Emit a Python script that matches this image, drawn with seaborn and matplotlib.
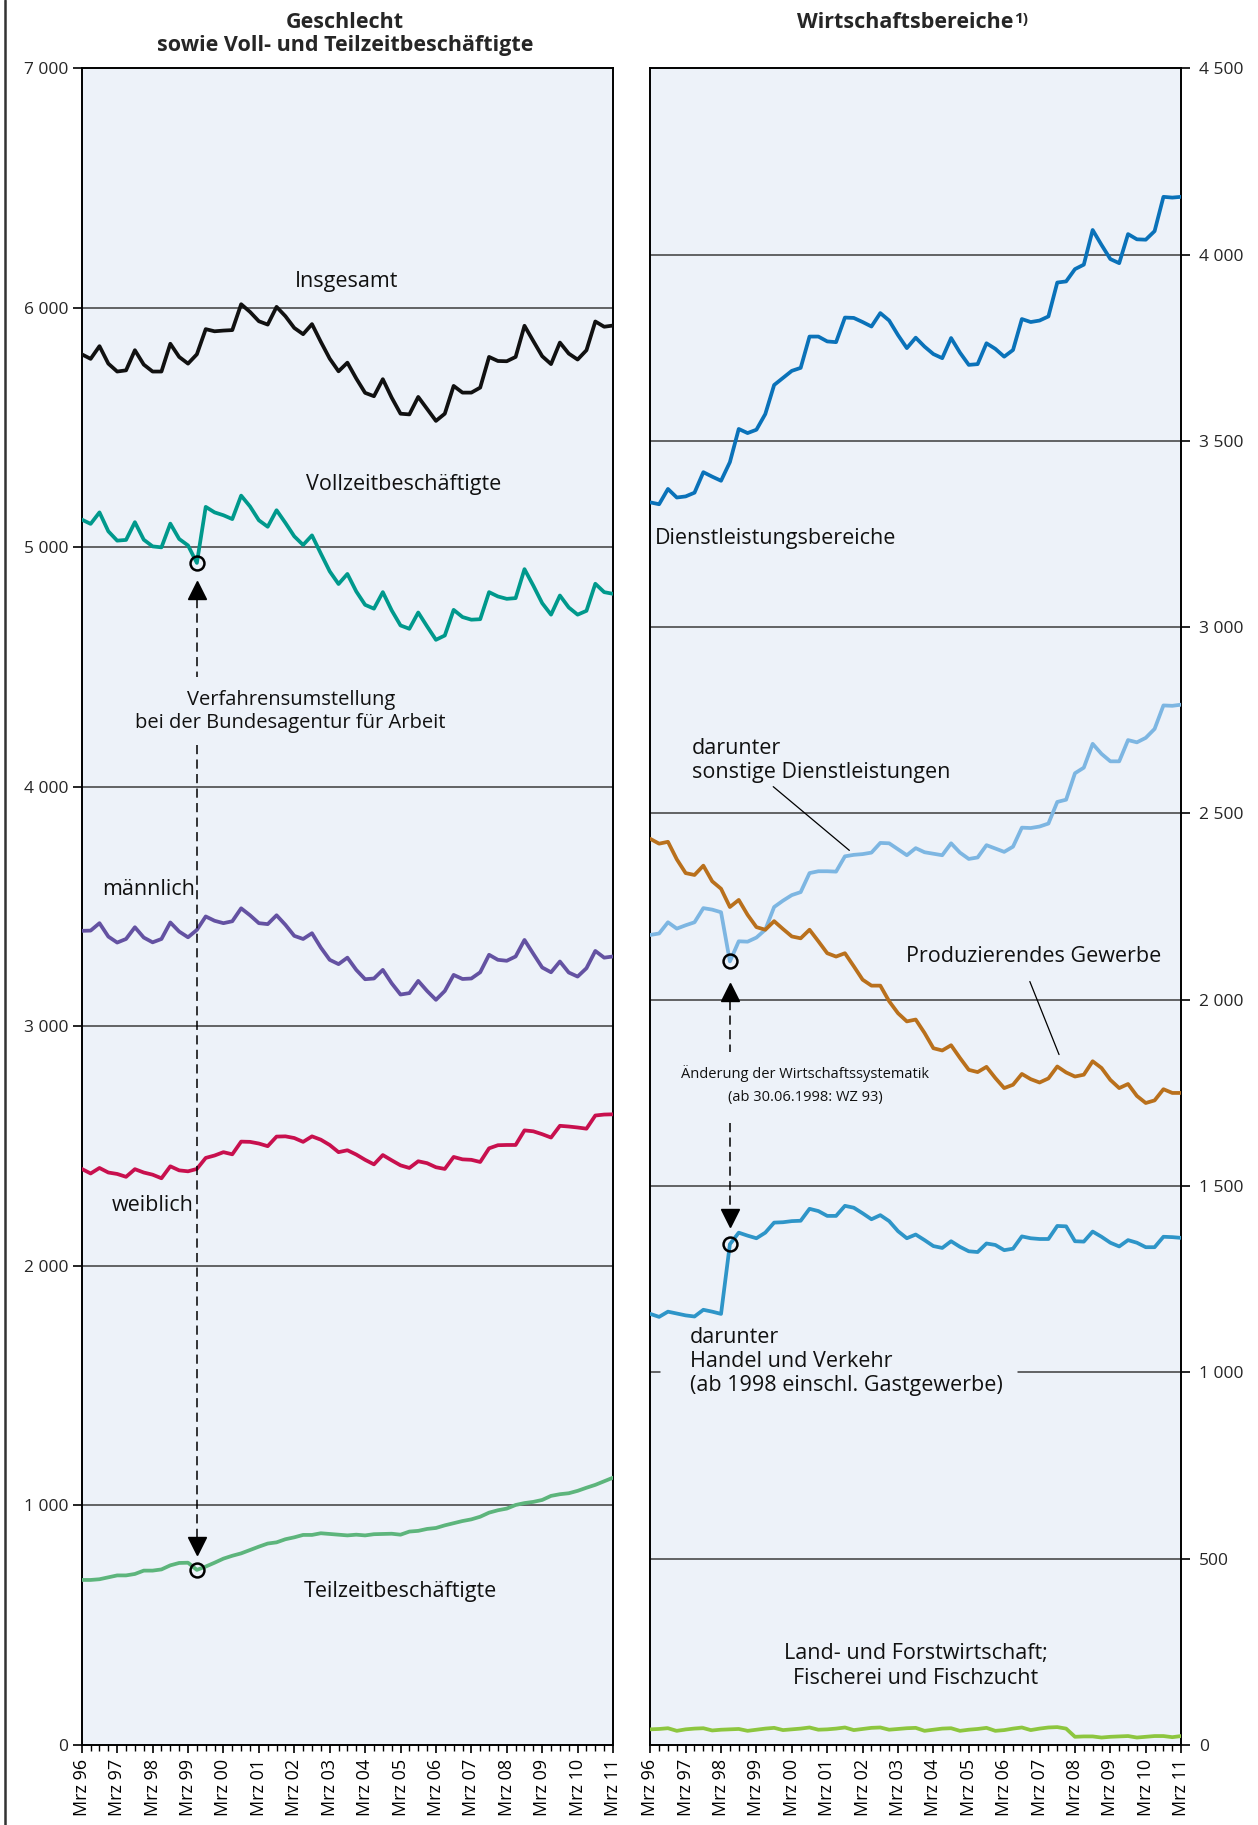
import numpy as np
import pandas as pd
import matplotlib
matplotlib.use("Agg")
import matplotlib.pyplot as plt
import seaborn as sns
from matplotlib.lines import Line2D

# ---------------- data (Tsd.), quarterly Mrz 96 ... Mrz 11 ----------------
tick_labels = ["Mrz 96", "Mrz 97", "Mrz 98", "Mrz 99", "Mrz 00", "Mrz 01", "Mrz 02", "Mrz 03",
               "Mrz 04", "Mrz 05", "Mrz 06", "Mrz 07", "Mrz 08", "Mrz 09", "Mrz 10", "Mrz 11"]

insgesamt = [5806, 5787, 5840, 5767, 5734, 5739, 5823, 5763, 5734, 5734, 5850, 5795, 5767, 5806, 5911,
             5902, 5905, 5907, 6015, 5983, 5944, 5930, 6004, 5965, 5916, 5890, 5932, 5858, 5788, 5735,
             5771, 5705, 5645, 5631, 5702, 5625, 5558, 5555, 5628, 5578, 5528, 5558, 5674, 5646, 5646,
             5667, 5795, 5778, 5777, 5795, 5925, 5861, 5798, 5765, 5855, 5809, 5784, 5823, 5943, 5921, 5926]
vollzeit = [5116, 5098, 5146, 5067, 5028, 5031, 5105, 5032, 5004, 5000, 5099, 5035, 5008, 4935, 5169,
            5146, 5134, 5118, 5216, 5171, 5113, 5086, 5155, 5102, 5046, 5010, 5050, 4974, 4900, 4847,
            4889, 4816, 4760, 4744, 4813, 4737, 4674, 4660, 4728, 4670, 4614, 4632, 4739, 4709, 4698,
            4700, 4813, 4795, 4785, 4788, 4909, 4840, 4767, 4719, 4799, 4749, 4719, 4735, 4848, 4813, 4806]
maennlich = [3399, 3400, 3431, 3375, 3350, 3365, 3414, 3371, 3351, 3365, 3434, 3396, 3372, 3403, 3459,
             3441, 3431, 3439, 3493, 3464, 3431, 3427, 3464, 3424, 3378, 3365, 3389, 3329, 3278, 3260,
             3287, 3236, 3197, 3200, 3236, 3180, 3133, 3139, 3190, 3148, 3111, 3148, 3215, 3198, 3200,
             3226, 3299, 3278, 3274, 3292, 3361, 3303, 3246, 3226, 3271, 3225, 3208, 3243, 3315, 3287, 3292]
weiblich = [2405, 2386, 2409, 2390, 2384, 2372, 2404, 2390, 2381, 2366, 2416, 2399, 2395, 2405, 2451,
            2461, 2475, 2466, 2519, 2518, 2511, 2500, 2540, 2541, 2534, 2518, 2541, 2527, 2505, 2475,
            2483, 2465, 2443, 2424, 2463, 2441, 2420, 2409, 2437, 2429, 2412, 2405, 2455, 2445, 2443,
            2434, 2491, 2504, 2505, 2505, 2566, 2562, 2550, 2536, 2585, 2582, 2578, 2573, 2628, 2632, 2633]
teilzeit = [689, 689, 692, 700, 708, 708, 714, 728, 728, 733, 750, 760, 761, 731, 745,
            761, 778, 790, 800, 814, 828, 841, 846, 859, 867, 877, 877, 884, 881, 878,
            875, 878, 875, 880, 881, 882, 878, 891, 894, 902, 906, 917, 926, 935, 942,
            953, 970, 980, 987, 1002, 1010, 1015, 1023, 1040, 1047, 1051, 1061, 1074, 1086, 1101, 1116]

dienstleistung = [3335, 3330, 3371, 3348, 3351, 3361, 3416, 3404, 3393, 3443, 3532, 3521, 3530, 3572, 3650,
                  3669, 3688, 3696, 3780, 3780, 3767, 3765, 3831, 3830, 3819, 3807, 3843, 3823, 3784, 3749,
                  3777, 3753, 3733, 3722, 3776, 3737, 3704, 3706, 3762, 3747, 3726, 3744, 3827, 3819, 3823,
                  3834, 3925, 3928, 3961, 3973, 4066, 4026, 3988, 3977, 4055, 4041, 4040, 4063, 4155, 4153, 4155]
sonstige_dl = [2174, 2178, 2208, 2191, 2200, 2208, 2246, 2242, 2235, 2103, 2157, 2156, 2167, 2188, 2249,
               2266, 2281, 2289, 2340, 2345, 2345, 2344, 2385, 2389, 2391, 2395, 2421, 2420, 2404, 2388,
               2407, 2396, 2392, 2388, 2420, 2395, 2378, 2382, 2415, 2406, 2397, 2411, 2462, 2461, 2465,
               2473, 2531, 2537, 2608, 2623, 2687, 2660, 2640, 2640, 2697, 2691, 2703, 2727, 2790, 2789, 2792]
produzierend = [2432, 2419, 2424, 2377, 2340, 2335, 2360, 2318, 2298, 2249, 2268, 2228, 2195, 2188, 2211,
                2190, 2170, 2165, 2188, 2157, 2125, 2116, 2125, 2090, 2054, 2038, 2038, 1996, 1964, 1942,
                1947, 1911, 1870, 1864, 1878, 1844, 1812, 1806, 1820, 1790, 1763, 1772, 1801, 1787, 1778,
                1789, 1821, 1805, 1794, 1799, 1835, 1817, 1785, 1763, 1774, 1742, 1723, 1730, 1760, 1750, 1750]
handel = [1157, 1149, 1163, 1158, 1153, 1150, 1168, 1163, 1157, 1344, 1375, 1367, 1360, 1375, 1402,
          1403, 1406, 1407, 1439, 1433, 1420, 1420, 1447, 1442, 1427, 1411, 1422, 1406, 1379, 1360,
          1370, 1355, 1339, 1334, 1352, 1337, 1325, 1323, 1346, 1342, 1328, 1332, 1365, 1360, 1358,
          1358, 1393, 1392, 1352, 1351, 1378, 1364, 1348, 1338, 1355, 1348, 1336, 1336, 1364, 1363, 1361]
land = [42, 43, 45, 38, 42, 44, 45, 39, 41, 42, 43, 38, 41, 44, 46, 40, 42, 44, 47, 41,
        42, 44, 47, 40, 43, 46, 47, 41, 43, 45, 46, 38, 41, 44, 45, 38, 41, 43, 46, 38,
        40, 44, 47, 40, 44, 47, 48, 44, 22, 23, 23, 20, 22, 23, 24, 20, 22, 24, 24, 21, 24]

# ---------------- styling ----------------
sns.set_theme(style="ticks")
plt.rcParams['font.family'] = ['Open Sans', 'DejaVu Sans']
plt.rcParams['axes.linewidth'] = 1.4

BG = '#EDF2F9'
GRID = '#3c3c3c'
FS_TICK = 12.5
FS_XTICK = 13
FS_ANN = 15.5
FS_TITLE = 15.5
LW = 2.7

q = np.arange(len(insgesamt))
left = pd.DataFrame({'q': q, 'Insgesamt': insgesamt, 'Vollzeit': vollzeit, 'maennlich': maennlich,
                     'weiblich': weiblich, 'Teilzeit': teilzeit}).melt(id_vars='q', var_name='reihe',
                                                                        value_name='wert')
right = pd.DataFrame({'q': q, 'DL': dienstleistung, 'sonstDL': sonstige_dl, 'Prod': produzierend,
                      'Handel': handel, 'Land': land}).melt(id_vars='q', var_name='reihe',
                                                           value_name='wert')
pal_left = {'Insgesamt': '#111111', 'Vollzeit': '#00998C', 'maennlich': '#6452A2',
            'weiblich': '#C8104E', 'Teilzeit': '#5DB57C'}
pal_right = {'DL': '#0A72B9', 'sonstDL': '#7DB6E2', 'Prod': '#B9701C',
             'Handel': '#2E95C8', 'Land': '#8DC63F'}

fig = plt.figure(figsize=(12.58, 18.25), dpi=100)
axL = fig.add_axes([0.0650, 0.04384, 0.4223, 0.91874])
axR = fig.add_axes([0.5169, 0.04384, 0.4220, 0.91874])

for ax in (axL, axR):
    ax.set_facecolor(BG)
    for s in ax.spines.values():
        s.set_visible(True)
        s.set_color('black')
        s.set_linewidth(1.4)

sns.lineplot(data=left, x='q', y='wert', hue='reihe', palette=pal_left, lw=LW,
             legend=False, ax=axL, estimator=None, sort=False, zorder=3)
sns.lineplot(data=right, x='q', y='wert', hue='reihe', palette=pal_right, lw=LW,
             legend=False, ax=axR, estimator=None, sort=False, zorder=3)

# axes limits and ticks
axL.set_xlim(0, 60)
axR.set_xlim(0, 60)
axL.set_ylim(0, 7000)
axR.set_ylim(0, 4500)

yl = np.arange(0, 7001, 1000)
axL.set_yticks(yl)
axL.set_yticklabels([f"{v:,}".replace(",", " ") for v in yl])
yr = np.arange(0, 4501, 500)
axR.set_yticks(yr)
axR.set_yticklabels([f"{v:,}".replace(",", " ") for v in yr])
axR.yaxis.tick_right()

for ax in (axL, axR):
    ax.set_xticks(np.arange(0, 61, 4))
    ax.set_xticklabels(tick_labels, rotation=90, fontsize=FS_XTICK)
    ax.set_xticks(np.arange(0, 61), minor=True)
    ax.tick_params(axis='x', which='major', length=5.5, width=1.2, pad=4.5, colors='black',
                   labelcolor='black', bottom=True)
    ax.tick_params(axis='x', which='minor', length=4.5, width=1.0, bottom=True, color='black')
    ax.tick_params(axis='y', length=6.5, width=1.2, labelsize=FS_TICK, color='black')
    ax.set_xlabel('')
    ax.set_ylabel('')
axR.tick_params(axis='y', left=False, right=True, labelleft=False, labelright=True, pad=6.5)
axL.tick_params(axis='y', left=True, right=False, pad=3)

# gridlines
for v in yl[1:-1]:
    axL.axhline(v, color=GRID, lw=1.1, zorder=1)
for v in yr[1:-1]:
    if v == 1000:
        axR.axhline(v, xmin=0, xmax=0.0175, color=GRID, lw=1.1, zorder=1)
        axR.axhline(v, xmin=0.693, xmax=1, color=GRID, lw=1.1, zorder=1)
    else:
        axR.axhline(v, color=GRID, lw=1.1, zorder=1)

# ---------------- annotations, left ----------------
kw = dict(fontsize=FS_ANN, color='#111111', zorder=4)
axL.text(29.85, 6108, "Insgesamt", ha='center', va='center', **kw)
axL.text(36.4, 5261, "Vollzeitbeschäftigte", ha='center', va='center', **kw)
axL.text(23.6, 4313, "Verfahrensumstellung\nbei der Bundesagentur für Arbeit", ha='center',
         va='center', linespacing=1.2, fontsize=14.5, color='#111111', zorder=4)
axL.text(7.55, 3570, "männlich", ha='center', va='center', **kw)
axL.text(8.0, 2251, "weiblich", ha='center', va='center', **kw)
axL.text(36.0, 640, "Teilzeitbeschäftigte", ha='center', va='center', **kw)

dash = (0, (6, 3.5))
iL = 13
axL.plot([iL, iL], [4785, 4459], color='black', lw=1.1, ls=dash, zorder=4)
axL.plot([iL, iL], [4175, 869], color='black', lw=1.1, ls=dash, zorder=4)
axL.plot([iL], [4821], marker='^', ms=12.5, color='black', zorder=5)
axL.plot([iL], [831], marker='v', ms=12.5, color='black', zorder=5)
axL.plot([iL], [vollzeit[iL]], marker='o', ms=10, mfc='none', mec='black', mew=1.8, zorder=6)
axL.plot([iL], [teilzeit[iL]], marker='o', ms=10, mfc='none', mec='black', mew=1.8, zorder=6)

# ---------------- annotations, right ----------------
axR.text(0.53, 3237, "Dienstleistungsbereiche", ha='left', va='center', **kw)
axR.text(4.72, 2642, "darunter\nsonstige Dienstleistungen", ha='left', va='center',
         linespacing=1.18, **kw)
axR.plot([13.9, 22.5], [2572, 2401], color='black', lw=0.9, zorder=4)
axR.text(43.35, 2116, "Produzierendes Gewerbe", ha='center', va='center', **kw)
axR.plot([42.9, 46.2], [2049, 1853], color='black', lw=0.9, zorder=4)
axR.text(17.5, 1772, "Änderung der Wirtschaftssystematik\n(ab 30.06.1998: WZ 93)", ha='center',
         va='center', fontsize=10.5, linespacing=1.75, color='#111111', zorder=4)
axR.text(4.5, 1030, "darunter\nHandel und Verkehr\n(ab 1998 einschl. Gastgewerbe)", ha='left',
         va='center', linespacing=1.2, **kw)
axR.text(30.0, 212, "Land- und Forstwirtschaft;\nFischerei und Fischzucht", ha='center',
         va='center', linespacing=1.2, **kw)

iR = 9
axR.plot([iR, iR], [1996, 1861], color='black', lw=1.1, ls=dash, zorder=4)
axR.plot([iR, iR], [1670, 1437], color='black', lw=1.1, ls=dash, zorder=4)
axR.plot([iR], [2020], marker='^', ms=12.5, color='black', zorder=5)
axR.plot([iR], [1415], marker='v', ms=12.5, color='black', zorder=5)
axR.plot([iR], [sonstige_dl[iR]], marker='o', ms=10, mfc='none', mec='black', mew=1.8, zorder=6)
axR.plot([iR], [handel[iR]], marker='o', ms=10, mfc='none', mec='black', mew=1.8, zorder=6)

# ---------------- titles ----------------
W, H = 1258, 1825
fig.text(345 / W, 1 - 22 / H, "Geschlecht", ha='center', va='center', fontsize=FS_TITLE,
         fontweight='bold')
fig.text(345 / W, 1 - 46 / H, "sowie Voll- und Teilzeitbeschäftigte", ha='center', va='center',
         fontsize=FS_TITLE, fontweight='bold')
t_r = fig.text(905 / W, 1 - 22 / H, "Wirtschaftsbereiche", ha='center', va='center',
               fontsize=FS_TITLE, fontweight='bold')
axR.annotate("1)", xy=(1, 1), xycoords=t_r, xytext=(0.5, 0), textcoords='offset points',
             ha='left', va='top', fontsize=11, fontweight='bold', annotation_clip=False)

# page border line on the left
fig.add_artist(Line2D([5 / W, 5 / W], [0, 1], color='#333333', lw=1.8))

fig.savefig("out.png", dpi=100, facecolor='white')
